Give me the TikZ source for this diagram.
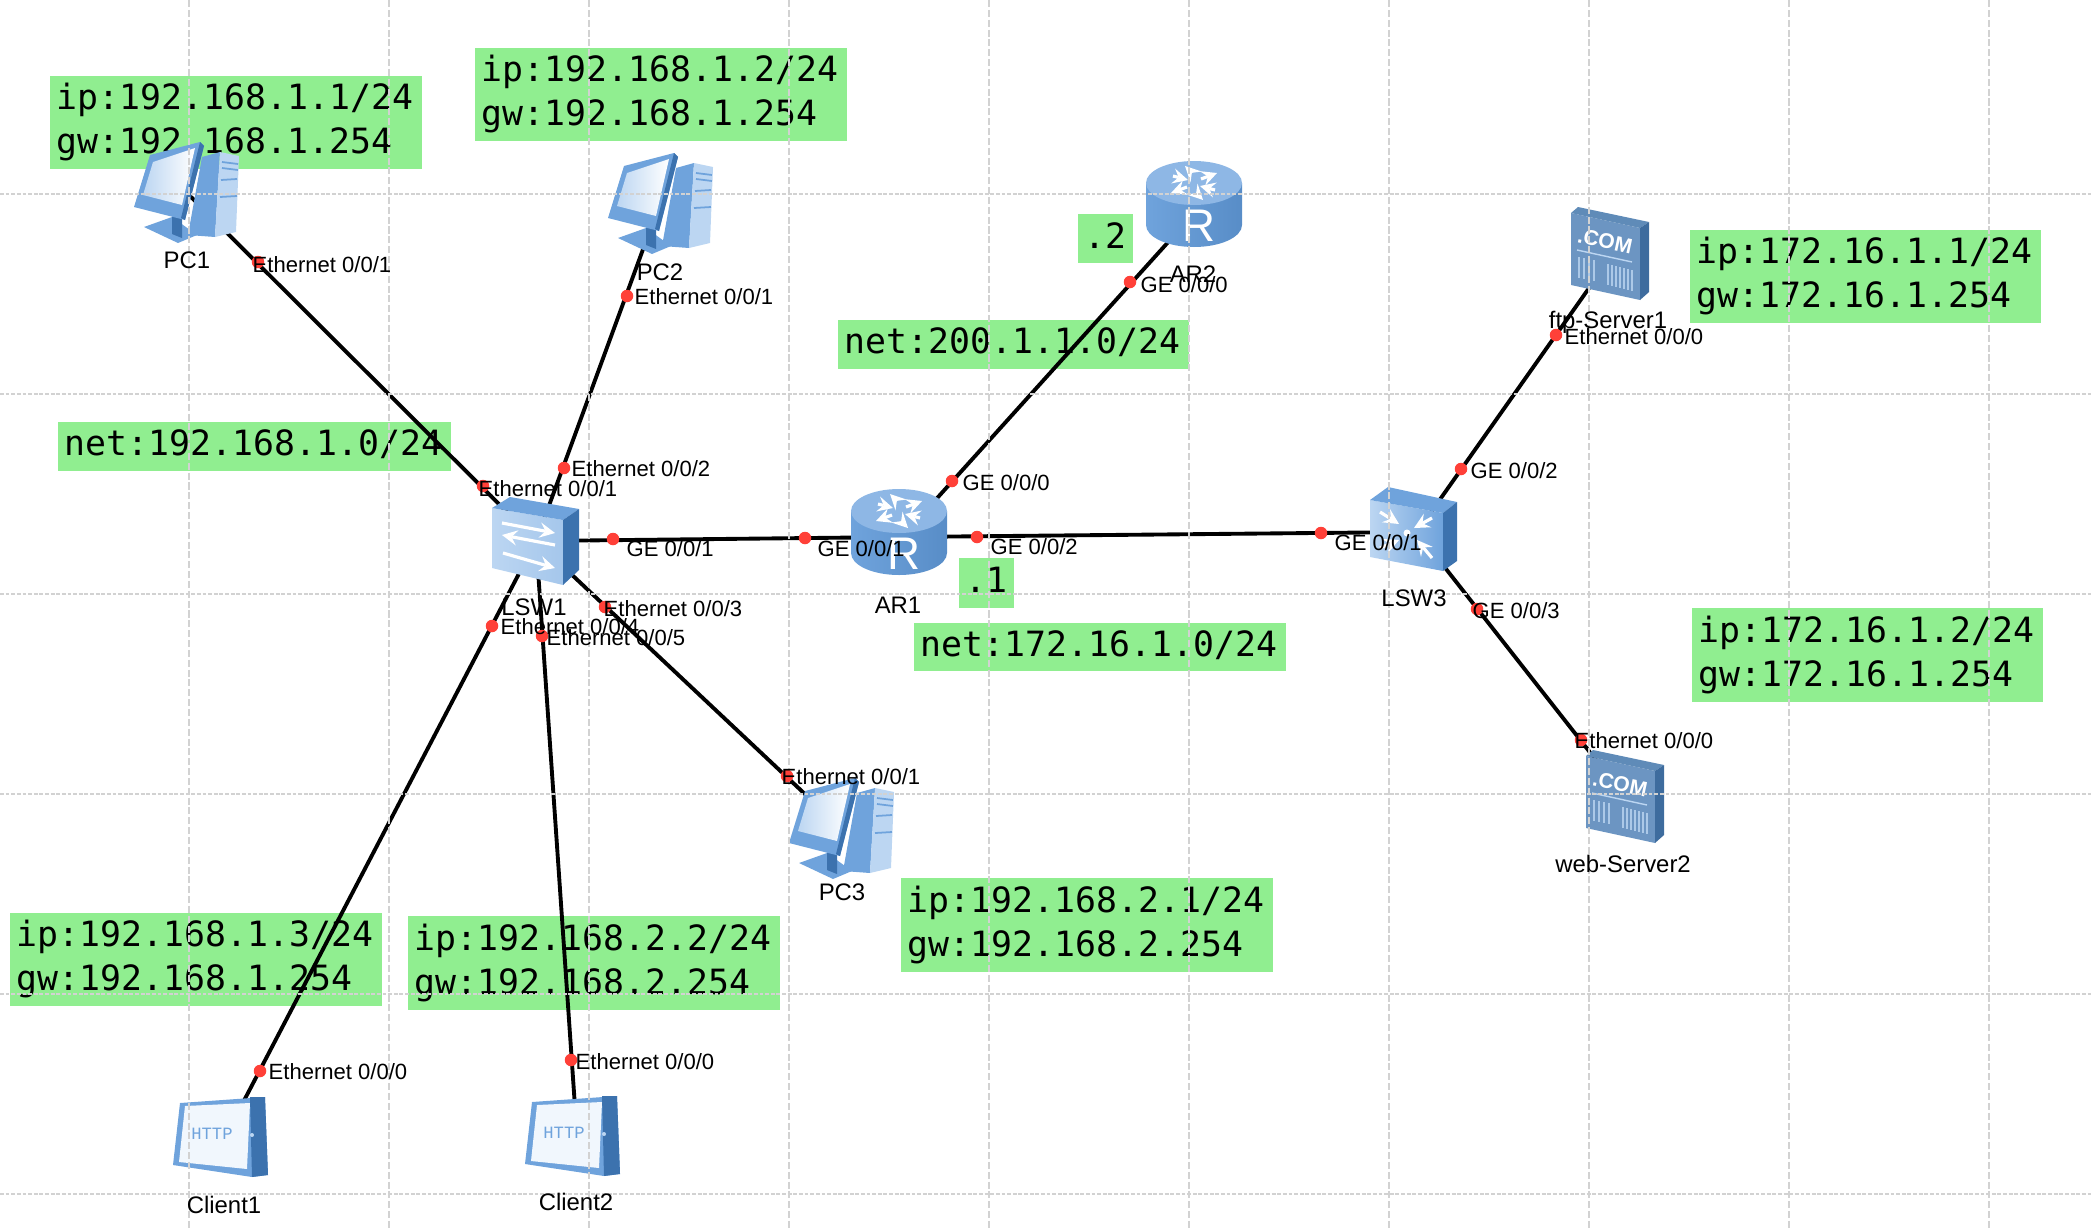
\documentclass[tikz,border=0pt]{standalone}
\usepackage{fontspec}
\setmainfont{Liberation Sans}
\setmonofont{DejaVu Sans Mono}
\newfontfamily\httpfont{Liberation Mono}
\usepackage{tikz}

\definecolor{boxgreen}{HTML}{90EE90}
\definecolor{portred}{HTML}{FF4038}
\definecolor{griddash}{HTML}{D2D2D2}
\definecolor{iconlight}{HTML}{BCD6F2}
\definecolor{iconmid}{HTML}{6FA3DC}
\definecolor{icondark}{HTML}{3C72AE}
\definecolor{iconpale}{HTML}{E4EFFB}
\definecolor{serverfront}{HTML}{6C95C2}
\definecolor{servertop}{HTML}{5F8BB8}
\definecolor{serverside}{HTML}{3E6C9E}

\tikzset{
  greenbox/.style={rectangle, fill=boxgreen, anchor=north west, inner xsep=0.07cm, inner ysep=0pt,
    align=left, font=\ttfamily\fontsize{9.9}{12.5}\selectfont},
  link/.style={draw=black, line width=1.1pt},
  gridh/.style={draw=griddash, line width=0.55pt, dash pattern=on 1.1pt off 0.5pt},
  gridv/.style={draw=griddash, line width=0.45pt, dash pattern=on 2pt off 0.8pt},
  portdot/.style={circle, fill=portred, minimum size=0.125cm, inner sep=0pt},
  portlabel/.style={anchor=west, inner sep=0pt, font=\fontsize{6.27}{7}\selectfont},
  namelabel/.style={inner sep=0pt, font=\fontsize{6.8}{8}\selectfont},
  whitearrow/.style={draw=white, line width=0.9pt, -stealth},
  pcicon/.pic={
    \fill[iconmid] (16,-35) -- (34,-40) -- (29,45) -- (2,43) -- cycle;
    \fill[iconlight] (34,-40) -- (53,-36) -- (50,40) -- (29,45) -- cycle;
    \draw[iconmid, line width=0.5pt] (36,-30) -- (52,-28) (36,-24) -- (52,-22) (35,-12) -- (51,-13) (34,5) -- (51,4);
    \fill[iconmid] (-42,35) -- (-14,25) -- (11,43) -- (-8,51) -- cycle;
    \fill[icondark] (-14,22) -- (-4,25) -- (-4,46) -- (-14,42) -- cycle;
    \fill[iconmid] (-36,-37) -- (14,-50) -- (18,-46) -- (-1,28) -- (-52,15) -- cycle;
    \fill[icondark] (14,-50) -- (18,-46) -- (-1,28) -- (-5,26) -- cycle;
    \shade[left color=iconlight, right color=white] (-33,-30) -- (9,-44) -- (-4,13) -- (-43,3) -- cycle;
  },
  routericon/.pic={
    \shade[left color=iconmid, right color=icondark!45!iconmid]
      (-51,-26) -- (-51,16) arc[x radius=48, y radius=22, start angle=180, end angle=0] -- (45,-26) -- cycle;
    \fill[iconmid!60!iconlight] (-3,-26) ellipse[x radius=48, y radius=22];
    \draw[whitearrow] (-24,-33) -- (-9,-29);
    \draw[whitearrow] (-6,-37) -- (-12,-43);
    \draw[whitearrow] (18,-19) -- (3,-23);
    \draw[whitearrow] (0,-15) -- (6,-9);
    \draw[whitearrow] (4,-30) -- (20,-36);
    \draw[whitearrow] (-10,-22) -- (-26,-16);
    \node[text=white, inner sep=0pt, font=\fontsize{13}{14}\selectfont] (Rmark) at (2,17) {R};
  },
  switchicon/.pic={
    \shade[left color=iconlight, right color=iconlight!70!iconmid] (-44,-33) -- (27,-21) -- (27,44) -- (-44,27) -- cycle;
    \fill[iconmid] (-44,-33) -- (-26,-44) -- (43,-32) -- (27,-21) -- cycle;
    \fill[icondark] (27,-21) -- (43,-32) -- (43,29) -- (27,44) -- cycle;
    \draw[whitearrow] (-34,-18) -- (19,-8);
    \draw[whitearrow] (19,4) -- (-34,-6);
    \draw[whitearrow] (-33,12) -- (19,27);
  },
  coreicon/.pic={
    \shade[left color=iconlight, right color=iconmid] (-47,-32) -- (26,-19) -- (26,39) -- (-47,25) -- cycle;
    \fill[iconmid] (-47,-32) -- (-29,-45) -- (40,-30) -- (26,-19) -- cycle;
    \fill[icondark] (26,-19) -- (40,-30) -- (40,29) -- (26,39) -- cycle;
    \draw[whitearrow] (-37,-20) -- (-18,-8);
    \draw[whitearrow] (15,-14) -- (-3,-4);
    \draw[whitearrow] (-37,16) -- (-18,8);
    \draw[whitearrow] (15,26) -- (0,8);
    \fill[white] (-10,1) circle (3.5);
  },
  servericon/.pic={
    \fill[serverfront] (-42,-41) -- (27,-26) -- (27,46) -- (-42,31) -- cycle;
    \fill[servertop] (-42,-41) -- (-35,-47) -- (36,-32) -- (27,-26) -- cycle;
    \fill[serverside] (27,-26) -- (36,-32) -- (36,38) -- (27,46) -- cycle;
    \node[text=white, inner sep=0pt, rotate=-12, font=\bfseries\fontsize{6}{7}\selectfont] (COMmark) at (-8,-13) {.COM};
    \draw[iconlight, line width=0.4pt] (-36,-4) -- (19,8);
    \draw[iconlight!80!serverfront, line width=0.6pt]
      (-34,3) -- (-34,24) (-29,4) -- (-29,25) (-24,5) -- (-24,26) (-19,6) -- (-19,27)
      (-5,10) -- (-5,31) (-1,11) -- (-1,32) (3,12) -- (3,33) (7,13) -- (7,34)
      (11,14) -- (11,35) (15,15) -- (15,36) (19,16) -- (19,37);
  },
  clienticon/.pic={
    \fill[iconmid] (-45,-34) -- (40,-40) -- (43,38) -- (27,40) -- (-52,28) -- cycle;
    \fill[icondark] (25,-40) -- (40,-40) -- (43,38) -- (27,40) -- cycle;
    \fill[iconpale!50!white] (-40,-31) -- (25,-34) -- (22,32) -- (-46,25) -- cycle;
    \fill[iconlight] (27,-2) circle (2);
    \node[text=iconmid, inner sep=0pt, font=\httpfont\fontsize{4.9}{6}\selectfont] (HTTPmark) at (-13,-3) {HTTP};
  }
}

\begin{document}
\begin{tikzpicture}[x=0.01cm, y=-0.01cm]
  \useasboundingbox (0,0) rectangle (2092,1230);

  \node[greenbox, text width=3.58cm, minimum height=0.93cm] (ipPC1) at (49,75) {ip:192.168.1.1/24\\gw:192.168.1.254};
  \node[greenbox, text width=3.58cm, minimum height=0.93cm] (ipPC2) at (474,47) {ip:192.168.1.2/24\\gw:192.168.1.254};
  \node[greenbox, text width=3.79cm, minimum height=0.49cm, text depth=2pt] (netLeft) at (57,421) {net:192.168.1.0/24};
  \node[greenbox, text width=3.37cm, minimum height=0.49cm, text depth=2pt] (netTop) at (837,319) {net:200.1.1.0/24};
  \node[greenbox, text width=0.41cm, minimum height=0.49cm, align=center, text depth=1.4pt] (dotTwo) at (1077,213) {.2};
  \node[greenbox, text width=0.41cm, minimum height=0.50cm, align=center, text depth=1.4pt] (dotOne) at (958,557) {.1};
  \node[greenbox, text width=3.58cm, minimum height=0.48cm, text depth=2pt] (netRight) at (913,622) {net:172.16.1.0/24};
  \node[greenbox, text width=3.37cm, minimum height=0.93cm] (ipFtp) at (1689,229) {ip:172.16.1.1/24\\gw:172.16.1.254};
  \node[greenbox, text width=3.37cm, minimum height=0.94cm] (ipWeb) at (1691,607) {ip:172.16.1.2/24\\gw:172.16.1.254};
  \node[greenbox, text width=3.58cm, minimum height=0.93cm] (ipClient1) at (9,912) {ip:192.168.1.3/24\\gw:192.168.1.254};
  \node[greenbox, text width=3.58cm, minimum height=0.94cm] (ipClient2) at (407,915) {ip:192.168.2.2/24\\gw:192.168.2.254};
  \node[greenbox, text width=3.58cm, minimum height=0.94cm] (ipPC3) at (900,877) {ip:192.168.2.1/24\\gw:192.168.2.254};

  \coordinate (PC1) at (186,192);
  \coordinate (PC2) at (660,203);
  \coordinate (PC3) at (841,828);
  \coordinate (LSW1) at (536,541);
  \coordinate (AR1) at (902,537);
  \coordinate (AR2) at (1198,209);
  \coordinate (LSW3) at (1417,532);
  \coordinate (ftpServer) at (1613,254);
  \coordinate (webServer) at (1625,797);
  \coordinate (Client1) at (225,1137);
  \coordinate (Client2) at (577,1136);

  \draw[link] (PC1) -- (LSW1);
  \draw[link] (PC2) -- (LSW1);
  \draw[link] (PC3) -- (LSW1);
  \draw[link] (Client1) -- (LSW1);
  \draw[link] (Client2) -- (LSW1);
  \draw[link] (LSW1) -- (AR1);
  \draw[link] (AR1) -- (AR2);
  \draw[link] (AR1) -- (LSW3);
  \draw[link] (LSW3) -- (ftpServer);
  \draw[link] (LSW3) -- (webServer);

  \pic at (PC1) {pcicon};
  \pic at (PC2) {pcicon};
  \pic at (841,828) {pcicon};
  \pic at (LSW1) {switchicon};
  \pic at (AR1) {routericon};
  \pic at (1197,209) {routericon};
  \pic at (LSW3) {coreicon};
  \pic at (ftpServer) {servericon};
  \pic at (1628,797) {servericon};
  \pic at (Client1) {clienticon};
  \pic at (Client2) {clienticon};

  \draw[gridv] (189,0) -- (189,1230);
  \draw[gridv] (389,0) -- (389,1230);
  \draw[gridv] (589,0) -- (589,1230);
  \draw[gridv] (789,0) -- (789,1230);
  \draw[gridv] (989,0) -- (989,1230);
  \draw[gridv] (1189,0) -- (1189,1230);
  \draw[gridv] (1389,0) -- (1389,1230);
  \draw[gridv] (1589,0) -- (1589,1230);
  \draw[gridv] (1789,0) -- (1789,1230);
  \draw[gridv] (1989,0) -- (1989,1230);
  \draw[gridh] (0,194) -- (2092,194);
  \draw[gridh] (0,394) -- (2092,394);
  \draw[gridh] (0,594) -- (2092,594);
  \draw[gridh] (0,794) -- (2092,794);
  \draw[gridh] (0,994) -- (2092,994);
  \draw[gridh] (0,1194) -- (2092,1194);

  \node[portdot] (dotA) at (258,262) {};
  \node[portdot] (dotB) at (483,486) {};
  \node[portdot] (dotC) at (627,296) {};
  \node[portdot] (dotD) at (564,468) {};
  \node[portdot] (dotE) at (613,539) {};
  \node[portdot] (dotF) at (805,538) {};
  \node[portdot] (dotG) at (952,481) {};
  \node[portdot] (dotH) at (1130,282) {};
  \node[portdot] (dotI) at (977,537) {};
  \node[portdot] (dotJ) at (1321,533) {};
  \node[portdot] (dotK) at (1461,469) {};
  \node[portdot] (dotL) at (1556,335) {};
  \node[portdot] (dotM) at (1477,609) {};
  \node[portdot] (dotN) at (1581,740) {};
  \node[portdot] (dotO) at (605,607) {};
  \node[portdot] (dotP) at (492,626) {};
  \node[portdot] (dotQ) at (542,636) {};
  \node[portdot] (dotR) at (787,776) {};
  \node[portdot] (dotS) at (260,1071) {};
  \node[portdot] (dotT) at (571,1060) {};

  \node[portlabel] (portA) at (252,265) {Ethernet 0/0/1};
  \node[portlabel] (portB) at (478,489) {Ethernet 0/0/1};
  \node[portlabel] (portC) at (634,297) {Ethernet 0/0/1};
  \node[portlabel] (portD) at (571,469) {Ethernet 0/0/2};
  \node[portlabel] (portE) at (626,549) {GE 0/0/1};
  \node[portlabel] (portF) at (817,549) {GE 0/0/1};
  \node[portlabel] (portG) at (962,483) {GE 0/0/0};
  \node[portlabel] (portH) at (1140,285) {GE 0/0/0};
  \node[portlabel] (portI) at (990,547) {GE 0/0/2};
  \node[portlabel] (portJ) at (1334,543) {GE 0/0/1};
  \node[portlabel] (portK) at (1470,471) {GE 0/0/2};
  \node[portlabel] (portL) at (1564,337) {Ethernet 0/0/0};
  \node[portlabel] (portM) at (1472,611) {GE 0/0/3};
  \node[portlabel] (portN) at (1574,741) {Ethernet 0/0/0};
  \node[portlabel] (portO) at (603,609) {Ethernet 0/0/3};
  \node[portlabel] (portP) at (500,627) {Ethernet 0/0/4};
  \node[portlabel] (portQ) at (546,638) {Ethernet 0/0/5};
  \node[portlabel] (portR) at (781,777) {Ethernet 0/0/1};
  \node[portlabel] (portS) at (268,1072) {Ethernet 0/0/0};
  \node[portlabel] (portT) at (575,1062) {Ethernet 0/0/0};

  \node[namelabel] (namePC1) at (187,260) {PC1};
  \node[namelabel] (namePC2) at (660,272) {PC2};
  \node[namelabel] (namePC3) at (842,892) {PC3};
  \node[namelabel] (nameLSW1) at (534,607) {LSW1};
  \node[namelabel] (nameAR1) at (898,605) {AR1};
  \node[namelabel] (nameAR2) at (1193,274) {AR2};
  \node[namelabel] (nameLSW3) at (1414,598) {LSW3};
  \node[namelabel] (nameFtp) at (1608,322) {ftp-Server1};
  \node[namelabel] (nameWeb) at (1623,864) {web-Server2};
  \node[namelabel] (nameClient1) at (224,1205) {Client1};
  \node[namelabel] (nameClient2) at (576,1202) {Client2};
\end{tikzpicture}
\end{document}
